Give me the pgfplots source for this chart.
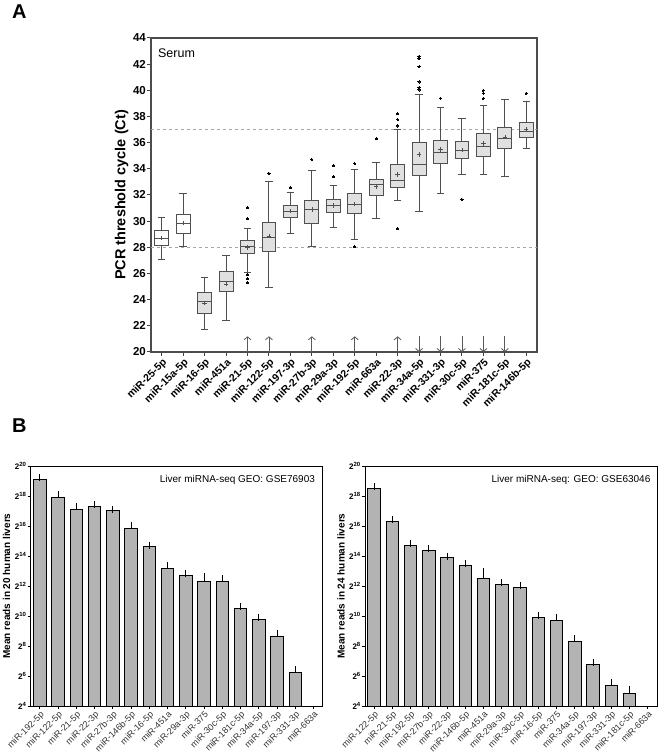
\documentclass[border=0pt]{standalone}
\usepackage{fontspec}
\setmainfont{Liberation Sans}
\usepackage{pgfplots}
\pgfplotsset{compat=1.18}
\usepgfplotslibrary{statistics}
\usetikzlibrary{arrows.meta}

\definecolor{boxgray}{HTML}{E0E0E0}
\definecolor{bargray}{HTML}{B3B3B3}
\definecolor{edgegray}{HTML}{505050}

\pgfplotsset{
  boxbase/.style={draw=edgegray, line width=0.9pt, mark=*, mark size=1.1pt,
    mark options={fill=black, draw=black, line width=0pt},
    boxplot/draw direction=y,
    boxplot/box extend=0.65, boxplot/whisker extend=0.35},
  barpanel/.style={scale only axis, width=292pt, height=240pt,
    xmin=-0.5, xmax=15.5, ymin=4, ymax=20,
    xtick={0,...,15}, ytick={4,6,...,20},
    yticklabels={2\textsuperscript{4},2\textsuperscript{6},2\textsuperscript{8},2\textsuperscript{10},2\textsuperscript{12},2\textsuperscript{14},2\textsuperscript{16},2\textsuperscript{18},2\textsuperscript{20}},
    tick align=outside, tick pos=left, major tick length=3pt,
    axis line style={black, line width=0.9pt},
    every tick/.style={black, line width=0.8pt},
    yticklabel style={font=\fontsize{8}{8}\selectfont\bfseries, inner sep=1pt},
    x tick label style={rotate=45, anchor=north east, font=\fontsize{9}{9}\selectfont, text=black!80, inner sep=1pt},
    ylabel style={font=\fontsize{10}{10}\selectfont\bfseries},
    clip=true}
}

% box: [fill]{pos}{lower whisker}{lower quartile}{median}{upper quartile}{upper whisker}
\newcommand{\drawbox}[7][boxgray]{%
  \addplot[boxbase, fill=#1, boxplot prepared={draw position=#2,
    lower whisker=#3, lower quartile=#4, median=#5,
    upper quartile=#6, upper whisker=#7}]}

\begin{document}
\begin{tikzpicture}
\path[use as bounding box] (0,0) rectangle (660pt,755pt);

\node[anchor=north west, inner sep=0pt, font=\fontsize{20}{20}\selectfont\bfseries] at (12pt,750pt) {A};
\node[anchor=north west, inner sep=0pt, font=\fontsize{20}{20}\selectfont\bfseries] at (12pt,336pt) {B};

% ---------- panel A: serum Ct ----------
\begin{axis}[
  at={(151pt,403pt)}, anchor=south west,
  scale only axis, width=386pt, height=314pt,
  xmin=-0.5, xmax=17.5, ymin=20, ymax=44,
  xtick={0,...,17}, ytick={20,22,...,44},
  xticklabels={miR-25-5p,miR-15a-5p,miR-16-5p,miR-451a,miR-21-5p,miR-122-5p,miR-197-3p,miR-27b-3p,miR-29a-3p,miR-192-5p,miR-663a,miR-22-3p,miR-34a-5p,miR-331-3p,miR-30c-5p,miR-375,miR-181c-5p,miR-146b-5p},
  tick align=outside, tick pos=left, major tick length=4pt,
  axis line style={black!70, line width=1.2pt},
  every tick/.style={black!75, line width=1pt},
  /pgf/number format/assume math mode=true,
  yticklabel style={font=\fontsize{11.5}{11.5}\selectfont\bfseries, inner sep=1pt},
  x tick label style={rotate=45, anchor=north east, font=\fontsize{10.5}{10.5}\selectfont\bfseries, inner sep=1pt},
  ylabel={PCR threshold cycle (Ct)},
  ylabel style={font=\fontsize{14.5}{14.5}\selectfont\bfseries},
]
\addplot[black!35, dashed, line width=0.5pt] coordinates {(-0.5,28) (17.5,28)};
\addplot[black!35, dashed, line width=0.5pt] coordinates {(-0.5,37) (17.5,37)};

\drawbox[white]{0}{27.08}{28.12}{28.68}{29.28}{30.29} coordinates {};
\drawbox[white]{1}{28.05}{29.04}{29.85}{30.51}{32.14} coordinates {};
\drawbox{2}{21.75}{22.97}{23.88}{24.52}{25.71} coordinates {};
\drawbox{3}{22.39}{24.59}{25.36}{26.17}{27.39} coordinates {};
\drawbox{4}{26.09}{27.51}{28.05}{28.53}{29.42} table[row sep=\\, y index=0] {y\\31.04\\30.18\\25.9\\25.6\\25.3\\};
\drawbox{5}{24.95}{27.66}{28.76}{29.87}{33.00} table[row sep=\\, y index=0] {y\\33.64\\};
\drawbox{6}{29.04}{30.29}{30.72}{31.18}{32.23} table[row sep=\\, y index=0] {y\\32.56\\};
\drawbox{7}{28.07}{29.83}{30.90}{31.62}{33.89} table[row sep=\\, y index=0] {y\\34.70\\};
\drawbox{8}{29.55}{30.65}{31.21}{31.69}{32.71} table[row sep=\\, y index=0] {y\\34.24\\33.40\\};
\drawbox{9}{28.58}{30.60}{31.29}{32.10}{33.94} table[row sep=\\, y index=0] {y\\34.40\\28.05\\};
\drawbox{10}{30.21}{31.95}{32.77}{33.22}{34.47} table[row sep=\\, y index=0] {y\\36.29\\};
\drawbox{11}{31.56}{32.54}{33.15}{34.35}{37.00} table[row sep=\\, y index=0] {y\\38.22\\37.77\\37.28\\29.42\\};
\drawbox{12}{30.74}{33.49}{34.36}{36.04}{39.65} table[row sep=\\, y index=0] {y\\42.60\\42.45\\42.42\\41.81\\40.64\\40.20\\40.03\\};
\drawbox{13}{32.14}{34.38}{35.25}{36.16}{38.68} table[row sep=\\, y index=0] {y\\39.39\\};
\drawbox{14}{33.54}{34.76}{35.42}{36.09}{37.82} table[row sep=\\, y index=0] {y\\31.66\\};
\drawbox{15}{33.56}{34.94}{35.73}{36.70}{38.81} table[row sep=\\, y index=0] {y\\40.00\\39.78\\39.39\\};
\drawbox{16}{33.41}{35.53}{36.32}{37.16}{39.34} coordinates {};
\drawbox{17}{35.55}{36.42}{36.85}{37.54}{39.14} table[row sep=\\, y index=0] {y\\39.78\\};

% means
\addplot[only marks, mark=+, mark size=2.2pt, mark options={draw=edgegray, line width=0.6pt}] table {
x  y
0  28.70
1  29.85
2  23.76
3  25.20
4  28.00
5  28.86
6  30.78
7  30.90
8  31.21
9  31.31
10 32.64
11 33.56
12 35.09
13 35.48
14 35.42
15 35.93
16 36.42
17 37.03
};

\addplot[quiver={u=0, v=\thisrow{v}}, -{Straight Barb[length=3pt,width=7pt]},
  draw=black!65, line width=0.8pt] table {
x  y    v
4  20   1.2
5  20   1.2
7  20   1.2
9  20   1.2
11 20   1.2
12 21.2 -1.2
13 21.2 -1.2
14 21.2 -1.2
15 21.2 -1.2
16 21.2 -1.2
};

\node[anchor=north west, inner sep=0pt, font=\fontsize{12.5}{12.5}\selectfont] at (rel axis cs:0.018,0.966) {Serum};
\end{axis}

% ---------- panel B left: GSE76903 ----------
\begin{axis}[
  barpanel, at={(30.7pt,49pt)}, anchor=south west,
  xticklabels={miR-192-5p,miR-122-5p,miR-21-5p,miR-22-3p,miR-27b-3p,miR-146b-5p,miR-16-5p,miR-451a,miR-29a-3p,miR-375,miR-30c-5p,miR-181c-5p,miR-34a-5p,miR-197-3p,miR-331-3p,miR-663a},
  ylabel={Mean reads in 20 human livers},
]
\addplot[ybar, bar width=12.5pt, fill=bargray, draw=black, line width=0.9pt,
  error bars/.cd, y dir=plus, y explicit,
  error bar style={black, line width=0.9pt},
  error mark options={black, line width=0.9pt, mark size=3.5pt}]
  table[x=x, y=y, y error=e] {
x  y     e
0  19.11 0.11
1  17.93 0.16
2  17.11 0.20
3  17.33 0.09
4  17.04 0.09
5  15.84 0.16
6  14.64 0.09
7  13.18 0.20
8  12.69 0.11
9  12.33 0.31
10 12.31 0.16
11 10.47 0.15
12 9.76  0.17
13 8.67  0.15
14 6.22  0.20
};
\node[anchor=north east, inner sep=0pt, font=\fontsize{10}{10}\selectfont] at (rel axis cs:0.974,0.9625) {Liver miRNA-seq GEO: GSE76903};
\end{axis}

% ---------- panel B right: GSE63046 ----------
\begin{axis}[
  barpanel, at={(365pt,49pt)}, anchor=south west,
  xticklabels={miR-122-5p,miR-21-5p,miR-192-5p,miR-27b-3p,miR-22-3p,miR-146b-5p,miR-451a,miR-29a-3p,miR-30c-5p,miR-16-5p,miR-375,miR-34a-5p,miR-197-3p,miR-331-3p,miR-181c-5p,miR-663a},
  ylabel={Mean reads in 24 human livers},
]
\addplot[ybar, bar width=12.5pt, fill=bargray, draw=black, line width=0.9pt,
  error bars/.cd, y dir=plus, y explicit,
  error bar style={black, line width=0.9pt},
  error mark options={black, line width=0.9pt, mark size=3.5pt}]
  table[x=x, y=y, y error=e] {
x  y     e
0  18.53 0.09
1  16.27 0.17
2  14.71 0.11
3  14.38 0.09
4  13.89 0.09
5  13.38 0.13
6  12.51 0.45
7  12.09 0.11
8  11.93 0.09
9  9.89  0.13
10 9.69  0.18
11 8.33  0.16
12 6.78  0.13
13 5.38  0.20
14 4.84  0.27
};
\node[anchor=north east, inner sep=0pt, font=\fontsize{10}{10}\selectfont] at (rel axis cs:0.978,0.9625) {Liver miRNA-seq: GEO: GSE63046};
\end{axis}
\end{tikzpicture}
\end{document}
